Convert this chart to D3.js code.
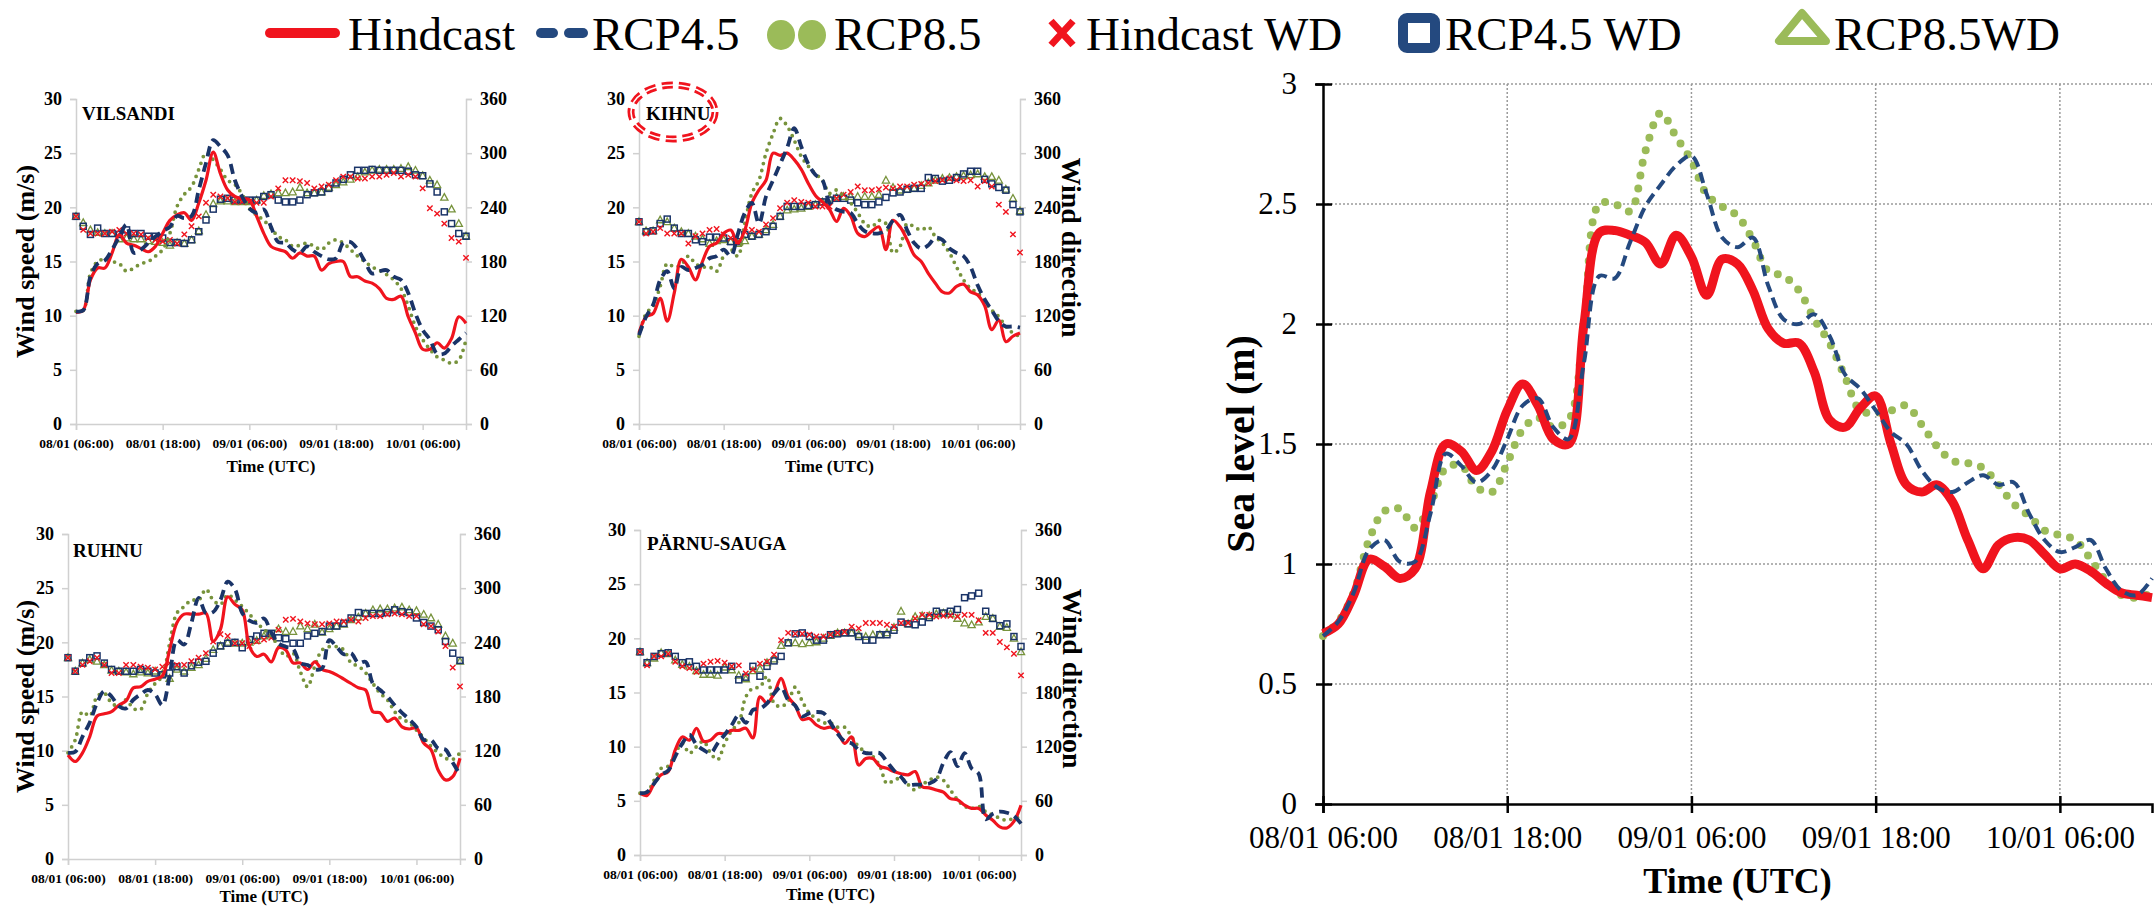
<!DOCTYPE html>
<html>
<head>
<meta charset="utf-8">
<script src="https://cdn.jsdelivr.net/npm/d3@7"></script>
<style>
  body { margin: 0; background: #fff; }
  svg { display: block; font-family: "Liberation Serif", "Times New Roman", serif; }
  svg text { font-family: "Liberation Serif", "Times New Roman", serif; }
</style>
</head>
<body>
<div id="chart"></div>
<script>
// hours since 08/01 06:00, one value per hour (0..54)
var hours = d3.range(0, 55);
var smallTickLabels = ["08/01 (06:00)", "08/01 (18:00)", "09/01 (06:00)", "09/01 (18:00)", "10/01 (06:00)"];
var bigTickLabels = ["08/01 06:00", "08/01 18:00", "09/01 06:00", "09/01 18:00", "10/01 06:00"];
var legendNames = ["Hindcast", "RCP4.5", "RCP8.5", "Hindcast WD", "RCP4.5 WD", "RCP8.5WD"];

// wind speed (m/s)
var vilHc  = [10.3,10.5,13.3,14.4,14.4,15.8,17.5,16.7,16.5,16.2,15.9,16.4,17.6,18.8,19.3,19.5,18.8,20.4,22.5,25.1,23.1,21.6,21.0,20.8,20.7,19.2,17.6,16.4,16.1,15.9,15.3,15.8,15.5,15.5,14.2,14.8,15.0,15.0,13.6,13.6,13.2,13.0,12.5,11.6,11.5,11.8,9.9,8.4,6.9,6.9,7.5,7.0,7.9,9.9,9.3];
var vilR45 = [10.4,10.5,13.6,14.8,15.1,16.1,17.3,18.4,15.8,16.1,16.7,17.3,17.8,18.2,19.2,19.0,19.2,21.6,24.1,26.2,25.6,24.8,22.5,21.0,19.9,19.5,19.8,18.2,16.8,16.7,16.1,15.8,16.4,15.9,15.5,15.2,15.3,16.7,16.8,16.1,15.0,13.9,14.1,14.2,13.6,13.3,12.1,10.2,8.7,7.8,6.5,6.5,7.2,7.8,8.4];
var vilR85 = [10.4,10.5,13.9,15.0,15.2,15.0,14.8,14.1,14.4,14.8,15.0,15.5,16.1,17.6,20.1,21.2,21.9,23.5,25.0,24.4,23.5,22.5,22.1,21.2,19.9,19.3,18.8,18.1,17.3,17.0,16.4,16.5,16.7,16.4,16.1,16.7,17.0,16.7,16.1,15.5,15.0,14.5,14.2,13.8,13.3,12.5,10.9,9.0,7.8,6.9,6.2,5.9,5.6,5.9,7.8];
var kihHc  = [8.4,9.9,10.2,11.6,9.5,12.1,15.2,14.5,13.3,15.0,16.4,16.7,17.6,17.9,16.7,17.9,20.4,21.6,22.5,25.0,24.8,25.0,24.4,23.5,22.2,21.1,20.5,19.8,18.7,19.9,19.2,17.6,17.3,17.8,18.2,16.1,18.8,18.2,17.0,15.6,15.0,13.9,13.0,12.2,12.1,12.7,12.9,12.2,11.9,10.9,8.7,9.6,7.6,8.1,8.4];
var kihR45 = [8.2,9.9,11.0,13.3,14.1,12.5,14.5,14.2,14.4,14.7,15.3,15.5,16.1,15.5,17.5,19.5,20.4,18.5,21.0,22.5,24.0,25.5,27.3,25.6,24.0,23.0,22.5,20.4,19.8,19.6,19.5,18.5,17.8,17.6,17.6,17.9,18.8,19.3,17.9,16.7,16.2,16.5,17.2,17.0,16.2,15.8,15.5,14.5,12.8,11.5,10.5,9.5,9.0,9.0,8.9];
var kihR85 = [8.1,10.2,10.9,12.7,14.8,14.5,14.7,15.5,14.8,14.5,14.5,14.1,15.5,16.1,15.5,18.5,21.3,22.5,25.0,26.8,28.2,27.5,26.2,24.7,23.8,23.1,22.5,21.3,21.6,21.0,20.4,19.5,18.5,18.2,18.8,18.5,15.8,16.4,18.5,18.2,17.9,18.2,17.3,16.7,15.8,14.5,13.3,12.5,12.1,11.3,10.5,9.9,9.0,8.4,8.1];
var ruhHc  = [9.6,9.0,9.8,11.3,13.2,13.4,13.6,14.2,14.6,15.8,15.9,16.4,16.6,16.9,19.3,21.8,22.6,22.6,22.6,22.7,20.1,21.2,24.2,23.5,23.0,19.6,18.7,18.9,18.2,19.5,19.3,18.1,18.1,17.5,18.2,17.5,17.3,17.0,16.6,16.2,15.8,15.6,13.6,13.5,12.7,13.0,12.2,12.0,12.1,10.7,10.1,8.2,7.3,7.6,9.3];
var ruhR45 = [9.8,9.9,11.3,12.6,14.4,15.5,15.0,14.1,13.9,14.7,15.2,15.6,15.2,14.2,16.9,20.2,19.8,21.8,24.1,22.7,22.8,23.9,25.6,24.9,22.7,22.0,21.8,22.2,20.9,19.9,19.6,19.4,18.1,17.9,17.5,17.6,20.2,19.6,18.9,19.0,18.1,18.2,16.2,15.6,15.0,14.2,13.5,12.9,12.2,11.0,11.0,10.2,10.1,8.9,7.8];
var ruhR85 = [9.8,11.0,13.6,13.2,15.0,15.3,14.4,14.1,14.7,13.9,13.8,15.3,16.2,16.9,19.9,22.7,23.3,23.9,23.9,24.9,23.9,23.5,24.4,23.9,23.3,22.6,21.8,21.2,20.6,19.6,18.7,19.0,17.3,15.9,17.8,19.3,19.6,19.6,19.3,18.1,17.8,17.2,16.2,15.3,14.7,13.6,12.9,12.6,11.9,11.2,10.4,9.8,9.3,9.2,9.8];
var parHc  = [5.7,5.5,6.6,7.4,7.7,9.7,10.9,10.6,11.7,10.5,10.6,11.2,11.2,11.5,11.5,11.7,10.8,14.6,14.0,14.9,16.3,14.6,13.8,12.5,12.6,12.0,11.7,11.8,11.4,10.3,10.9,8.3,8.9,8.9,8.2,8.0,7.7,7.5,7.4,7.7,6.3,6.2,6.0,5.8,5.2,5.1,4.6,4.3,4.3,3.7,3.2,2.6,2.5,3.1,4.6];
var parR45 = [5.7,5.8,6.6,7.4,7.8,9.1,10.3,11.1,10.2,9.7,9.4,10.3,11.1,12.0,12.9,12.2,13.4,13.5,14.0,14.9,15.5,14.3,13.8,12.8,13.1,13.2,13.1,12.2,11.2,10.5,10.3,9.7,9.4,9.4,9.4,8.6,7.8,7.2,6.5,6.5,6.5,6.6,7.0,8.5,9.5,8.2,9.4,8.0,7.5,3.3,3.8,4.0,3.9,3.6,2.9];
var parR85 = [5.7,5.8,6.9,8.0,8.2,9.4,10.3,9.4,10.0,10.5,9.4,8.8,10.3,11.5,12.2,14.6,15.4,15.5,16.5,14.0,13.7,14.2,15.5,14.2,13.1,12.6,12.2,12.2,11.8,11.8,10.9,10.0,9.5,9.1,8.2,6.6,6.9,7.1,6.5,6.0,6.5,6.9,7.2,6.9,6.0,5.1,4.5,4.3,4.5,4.0,3.7,3.4,3.2,3.4,3.5];

// wind direction (degrees)
var vilHcWD  = [230,215,211,211,211,213,215,211,211,210,206,204,202,204,200,210,219,230,245,254,252,250,246,246,246,245,245,252,261,270,270,269,267,261,263,265,270,274,274,272,272,274,274,276,278,274,276,274,261,239,233,222,206,202,184];
var vilR45WD = [230,219,210,217,211,211,210,215,211,211,208,208,206,201,201,200,204,213,226,238,249,250,248,248,248,248,252,254,248,246,246,248,254,256,257,261,267,271,276,281,281,282,281,281,281,281,280,276,275,266,257,235,222,211,208];
var vilR85WD = [230,223,215,212,211,211,205,206,205,205,203,202,201,198,201,200,204,214,232,244,247,247,246,246,246,248,253,255,256,256,257,262,256,256,257,262,265,268,271,274,279,281,282,282,282,283,285,281,275,270,265,251,238,222,208];
var kihHcWD  = [224,211,213,217,211,211,211,200,208,211,215,216,210,206,202,213,215,213,221,228,239,245,248,246,245,241,241,241,250,254,257,263,259,259,260,262,261,263,263,265,266,267,269,270,272,270,269,270,263,269,263,243,235,210,190];
var kihR45WD = [224,213,214,222,227,217,211,211,204,202,207,207,206,202,202,210,208,210,213,219,230,241,241,241,242,243,246,248,250,250,248,245,243,243,246,251,256,257,260,261,261,273,272,269,270,273,277,280,280,271,266,262,259,243,235];
var kihR85WD = [224,214,214,226,224,217,213,211,208,205,200,203,204,202,200,203,208,210,215,221,230,237,238,239,241,243,246,250,251,252,252,252,252,252,254,270,262,259,260,261,264,267,270,272,273,274,275,276,277,274,274,270,260,250,236];
var ruhHcWD  = [223,208,215,219,223,215,206,206,215,215,213,212,210,213,217,215,215,219,223,228,241,249,247,239,239,236,241,243,245,254,265,266,263,261,260,260,261,263,263,265,263,267,269,269,271,272,271,269,269,260,258,252,236,212,191];
var ruhR45WD = [223,208,217,223,225,217,210,208,208,208,210,208,206,204,206,213,206,214,218,219,228,236,239,240,234,243,247,250,250,245,244,239,239,247,250,252,258,258,261,267,273,272,272,272,273,276,274,273,267,262,258,254,241,228,220];
var ruhR85WD = [223,208,217,221,219,215,209,208,207,205,207,206,208,205,200,210,208,212,215,222,232,236,240,239,239,240,242,247,248,255,252,252,258,255,260,251,255,258,260,265,268,272,276,277,277,278,279,276,275,271,267,260,247,239,219];
var parHcWD  = [225,210,220,220,223,214,209,207,203,212,214,215,213,209,210,201,205,212,214,222,238,246,245,245,244,242,242,244,246,247,253,251,257,257,257,255,253,257,257,262,266,266,264,265,265,264,266,266,260,246,246,236,230,223,199];
var parR45WD = [225,213,220,223,224,220,213,214,209,205,205,205,205,209,194,197,209,198,209,215,220,235,245,246,242,238,238,244,245,246,246,242,238,238,244,244,249,258,256,255,258,263,270,268,270,272,285,287,290,270,262,254,256,242,231];
var parR85WD = [225,213,218,224,223,216,211,209,204,200,200,199,208,205,199,195,204,206,213,217,232,235,235,234,235,236,240,243,246,246,246,244,242,244,244,246,252,270,256,264,265,265,267,268,267,262,257,255,258,264,262,253,252,240,225];

// sea level (m)
var seaHc  = [0.71,0.75,0.87,1.02,0.99,0.94,0.98,1.30,1.50,1.47,1.39,1.47,1.64,1.75,1.66,1.52,1.50,2.00,2.38,2.39,2.37,2.34,2.25,2.37,2.28,2.12,2.27,2.25,2.14,1.98,1.92,1.92,1.80,1.60,1.57,1.65,1.70,1.50,1.33,1.30,1.33,1.26,1.10,0.98,1.08,1.11,1.10,1.04,0.98,1.00,0.97,0.92,0.88,0.87,0.86];
var seaR45 = [0.70,0.76,0.88,1.06,1.10,1.01,1.01,1.21,1.46,1.41,1.34,1.39,1.52,1.66,1.69,1.57,1.52,1.84,2.20,2.19,2.34,2.49,2.58,2.66,2.70,2.54,2.36,2.32,2.36,2.16,2.02,2.00,2.04,1.95,1.79,1.73,1.64,1.55,1.50,1.39,1.32,1.30,1.34,1.37,1.33,1.34,1.21,1.10,1.05,1.07,1.10,0.98,0.89,0.87,0.94];
var seaR85 = [0.70,0.76,0.88,1.10,1.22,1.23,1.15,1.25,1.40,1.41,1.32,1.30,1.42,1.56,1.61,1.57,1.60,2.00,2.50,2.50,2.47,2.72,2.88,2.78,2.68,2.54,2.49,2.45,2.35,2.22,2.20,2.14,2.02,1.92,1.78,1.64,1.63,1.64,1.66,1.58,1.49,1.43,1.42,1.40,1.33,1.25,1.20,1.14,1.12,1.10,1.02,0.93,0.87,0.86,0.88];

var red = "#f0141e", navy = "#1a3468", navyBig = "#24497f", green = "#77933c", greenBig = "#9bbb59";

var svg = d3.select("#chart").append("svg")
  .attr("width", 2156)
  .attr("height", 908);

svg.append("rect").attr("width", 2156).attr("height", 908).attr("fill", "#fff");

// ---------- legend ----------
var lg = svg.append("g").attr("font-size", 47);
lg.append("line").attr("x1", 270).attr("x2", 335).attr("y1", 33).attr("y2", 33)
  .attr("stroke", red).attr("stroke-width", 10).attr("stroke-linecap", "round");
lg.append("text").attr("x", 348).attr("y", 50).text(legendNames[0]);
[[541, 553], [569, 583]].forEach(function(s){
  lg.append("line").attr("x1", s[0]).attr("x2", s[1]).attr("y1", 33).attr("y2", 33)
    .attr("stroke", navyBig).attr("stroke-width", 10).attr("stroke-linecap", "round");
});
lg.append("text").attr("x", 592).attr("y", 50).text(legendNames[1]);
[781, 812].forEach(function(cx){
  lg.append("ellipse").attr("cx", cx).attr("cy", 35).attr("rx", 14).attr("ry", 15).attr("fill", greenBig);
});
lg.append("text").attr("x", 834).attr("y", 50).text(legendNames[2]);
lg.append("path").attr("d", "M1051,21L1073,45M1051,45L1073,21")
  .attr("stroke", red).attr("stroke-width", 7).attr("fill", "none");
lg.append("text").attr("x", 1086).attr("y", 50).text(legendNames[3]);
lg.append("rect").attr("x", 1403).attr("y", 18).attr("width", 32).attr("height", 30).attr("rx", 4)
  .attr("fill", "#fff").attr("stroke", navyBig).attr("stroke-width", 10);
lg.append("text").attr("x", 1445).attr("y", 50).text(legendNames[4]);
lg.append("path").attr("d", "M1802,13L1779,41L1826,41Z")
  .attr("fill", "#fff").attr("stroke", greenBig).attr("stroke-width", 8).attr("stroke-linejoin", "round");
lg.append("text").attr("x", 1834).attr("y", 50).text(legendNames[5]);

// ---------- small panels ----------
var panels = [
  {name: "VILSANDI", x0: 76, x1: 466, yTop: 99, yBot: 424, hc: vilHc, r45: vilR45, r85: vilR85,
   hcWD: vilHcWD, r45WD: vilR45WD, r85WD: vilR85WD, left: true, right: false, lx: 82, ly: 120, ty: 472},
  {name: "KIHNU", x0: 639, x1: 1020, yTop: 99, yBot: 424, hc: kihHc, r45: kihR45, r85: kihR85,
   hcWD: kihHcWD, r45WD: kihR45WD, r85WD: kihR85WD, left: false, right: true, lx: 646, ly: 120, ty: 472, ring: true},
  {name: "RUHNU", x0: 68, x1: 460, yTop: 534, yBot: 859, hc: ruhHc, r45: ruhR45, r85: ruhR85,
   hcWD: ruhHcWD, r45WD: ruhR45WD, r85WD: ruhR85WD, left: true, right: false, lx: 73, ly: 557, ty: 902},
  {name: "PÄRNU-SAUGA", x0: 640, x1: 1021, yTop: 530, yBot: 855, hc: parHc, r45: parR45, r85: parR85,
   hcWD: parHcWD, r45WD: parR45WD, r85WD: parR85WD, left: false, right: true, lx: 647, ly: 550, ty: 900}
];

function styleAxis(g, size) {
  g.attr("font-family", null);
  g.select(".domain").attr("stroke", "#d0d0d0").attr("stroke-width", 1.5);
  g.selectAll(".tick line").attr("stroke", "#d0d0d0").attr("stroke-width", 1.5);
  g.selectAll(".tick text").attr("font-weight", "bold")
    .attr("font-size", size).attr("fill", "#000");
}

var drawPanel = function(p) {
  var x = d3.scaleLinear().domain([0, 54]).range([p.x0, p.x1]);
  var y = d3.scaleLinear().domain([0, 30]).range([p.yBot, p.yTop]);
  var yR = d3.scaleLinear().domain([0, 360]).range([p.yBot, p.yTop]);
  var g = svg.append("g");

  g.append("g").attr("transform", "translate(" + p.x0 + ",0)")
    .call(d3.axisLeft(y).tickValues(d3.range(0, 31, 5)).tickSize(6).tickPadding(8))
    .call(styleAxis, 18);
  g.append("g").attr("transform", "translate(" + p.x1 + ",0)")
    .call(d3.axisRight(yR).tickValues(d3.range(0, 361, 60)).tickSize(6).tickPadding(8))
    .call(styleAxis, 18);
  g.append("g").attr("transform", "translate(0," + p.yBot + ")")
    .call(d3.axisBottom(x).tickValues([0, 12, 24, 36, 48]).tickSize(6).tickPadding(8)
      .tickFormat(function(d){ return smallTickLabels[d / 12]; }))
    .call(styleAxis, 13.5);

  g.append("text").attr("x", (p.x0 + p.x1) / 2).attr("y", p.ty)
    .attr("text-anchor", "middle").attr("font-weight", "bold").attr("font-size", 17)
    .text("Time (UTC)");

  if (p.left) {
    g.append("text")
      .attr("transform", "translate(25," + (p.yTop + p.yBot) / 2 + ") rotate(-90)")
      .attr("dy", "0.35em").attr("text-anchor", "middle")
      .attr("font-weight", "bold").attr("font-size", 26).text("Wind speed (m/s)");
  }
  if (p.right) {
    g.append("text")
      .attr("transform", "translate(" + (p.x1 + 52) + "," + ((p.yTop + p.yBot) / 2 - 14) + ") rotate(90)")
      .attr("dy", "0.35em").attr("text-anchor", "middle")
      .attr("font-weight", "bold").attr("font-size", 28).text("Wind direction");
  }

  // direction markers
  g.selectAll("path.tri").data(p.r85WD).enter().append("path")
    .attr("d", "M0,-3.8L3.6,2.8L-3.6,2.8Z")
    .attr("transform", function(d, i){ return "translate(" + x(i) + "," + yR(d) + ")"; })
    .attr("fill", "none").attr("stroke", green).attr("stroke-width", 1.3);
  g.selectAll("rect.sq").data(p.r45WD).enter().append("rect")
    .attr("x", function(d, i){ return x(i) - 3; })
    .attr("y", function(d){ return yR(d) - 3; })
    .attr("width", 6).attr("height", 6)
    .attr("fill", "none").attr("stroke", navy).attr("stroke-width", 1.5);
  g.selectAll("path.cross").data(p.hcWD).enter().append("path")
    .attr("d", "M-2.7,-2.7L2.7,2.7M-2.7,2.7L2.7,-2.7")
    .attr("transform", function(d, i){ return "translate(" + x(i) + "," + yR(d) + ")"; })
    .attr("stroke", red).attr("stroke-width", 1.4);

  var line = d3.line()
    .x(function(d, i){ return x(hours[i]); })
    .y(function(d){ return y(d); })
    .curve(d3.curveCatmullRom.alpha(0.5));

  g.append("path").attr("d", line(p.r85)).attr("fill", "none")
    .attr("stroke", green).attr("stroke-width", 3.8)
    .attr("stroke-dasharray", "0,7").attr("stroke-linecap", "round");
  g.append("path").attr("d", line(p.hc)).attr("fill", "none")
    .attr("stroke", red).attr("stroke-width", 3.2);
  g.append("path").attr("d", line(p.r45)).attr("fill", "none")
    .attr("stroke", navy).attr("stroke-width", 3.8)
    .attr("stroke-dasharray", "10,6");

  g.append("text").attr("x", p.lx).attr("y", p.ly)
    .attr("font-weight", "bold").attr("font-size", 19).text(p.name);

  if (p.ring) {
    var cx = p.lx + 27, cy = p.ly - 8;
    g.append("ellipse").attr("cx", cx).attr("cy", cy).attr("rx", 42).attr("ry", 27)
      .attr("fill", "none").attr("stroke", red).attr("stroke-width", 7).attr("stroke-dasharray", "11,6");
    g.append("ellipse").attr("cx", cx).attr("cy", cy).attr("rx", 42).attr("ry", 27)
      .attr("fill", "none").attr("stroke", "#fff").attr("stroke-width", 1.6);
  }
};

panels.forEach(drawPanel);

// ---------- sea level panel ----------
var bx = d3.scaleLinear().domain([0, 54]).range([1323, 2152]);
var by = d3.scaleLinear().domain([0, 3]).range([804, 84]);
var big = svg.append("g");

big.selectAll("line.hgrid").data(d3.range(0.5, 3.01, 0.5)).enter().append("line")
  .attr("x1", bx(0)).attr("x2", bx(54))
  .attr("y1", function(d){ return by(d); }).attr("y2", function(d){ return by(d); })
  .attr("stroke", "#9a9a9a").attr("stroke-width", 1.5).attr("stroke-dasharray", "2,2");
big.selectAll("line.vgrid").data([12, 24, 36, 48]).enter().append("line")
  .attr("x1", function(d){ return bx(d); }).attr("x2", function(d){ return bx(d); })
  .attr("y1", by(3)).attr("y2", by(0))
  .attr("stroke", "#9a9a9a").attr("stroke-width", 1.5).attr("stroke-dasharray", "2,2");

var yAx = big.append("g").attr("transform", "translate(" + bx(0) + ",0)")
  .call(d3.axisLeft(by).tickValues(d3.range(0, 3.01, 0.5)).tickSize(8).tickPadding(18)
    .tickFormat(function(d){ return d3.format("")(+d.toFixed(1)); }));
var xAx = big.append("g").attr("transform", "translate(0," + by(0) + ")")
  .call(d3.axisBottom(bx).tickValues([0, 12, 24, 36, 48]).tickSize(9).tickPadding(13)
    .tickFormat(function(d){ return bigTickLabels[d / 12]; }));
[yAx, xAx].forEach(function(a){
  a.attr("font-family", null);
  a.select(".domain").attr("stroke", "#000").attr("stroke-width", 2.5);
  a.selectAll(".tick line").attr("stroke", "#000").attr("stroke-width", 2.5);
  a.selectAll(".tick text").attr("font-size", 31).attr("fill", "#000");
});
yAx.selectAll(".tick line").attr("x2", -7).attr("x1", 9);
xAx.selectAll(".tick line").attr("y1", -8).attr("y2", 9);

big.append("text")
  .attr("transform", "translate(1240," + (by(0) + by(3)) / 2 + ") rotate(-90)")
  .attr("dy", "0.35em").attr("text-anchor", "middle")
  .attr("font-weight", "bold").attr("font-size", 40).text("Sea level (m)");
big.append("text").attr("x", (bx(0) + bx(54)) / 2).attr("y", 893)
  .attr("text-anchor", "middle").attr("font-weight", "bold").attr("font-size", 36)
  .text("Time (UTC)");

var seaLine = d3.line()
  .x(function(d, i){ return bx(hours[i]); })
  .y(function(d){ return by(d); })
  .curve(d3.curveCatmullRom.alpha(0.5));

big.append("path").attr("d", seaLine(seaR85)).attr("fill", "none")
  .attr("stroke", greenBig).attr("stroke-width", 8)
  .attr("stroke-dasharray", "0,13").attr("stroke-linecap", "round");
big.append("path").attr("d", seaLine(seaHc)).attr("fill", "none")
  .attr("stroke", red).attr("stroke-width", 9).attr("stroke-linejoin", "round");
big.append("path").attr("d", seaLine(seaR45)).attr("fill", "none")
  .attr("stroke", navyBig).attr("stroke-width", 4)
  .attr("stroke-dasharray", "11,6");
</script>
</body>
</html>
